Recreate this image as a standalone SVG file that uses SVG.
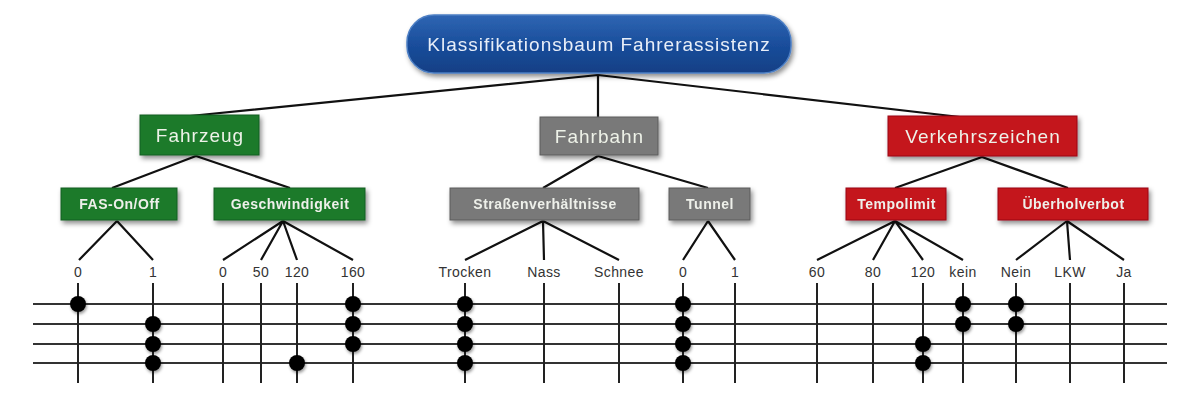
<svg xmlns="http://www.w3.org/2000/svg" width="1200" height="400" viewBox="0 0 1200 400">
<defs>
<filter id="sh" x="-20%" y="-30%" width="140%" height="170%"><feDropShadow dx="2" dy="3" stdDeviation="2.5" flood-color="#000" flood-opacity="0.45"/></filter>
<filter id="dsh" x="-60%" y="-60%" width="220%" height="220%"><feDropShadow dx="1" dy="2" stdDeviation="1.5" flood-color="#000" flood-opacity="0.4"/></filter>
<linearGradient id="gb" x1="0" y1="0" x2="0" y2="1"><stop offset="0" stop-color="#2f66b3"/><stop offset="0.5" stop-color="#1a4e9c"/><stop offset="1" stop-color="#123f85"/></linearGradient>
</defs>
<style>
text{font-family:"Liberation Sans",Arial,sans-serif;text-anchor:middle}
.t1{font-size:19px;fill:#eef2e8;letter-spacing:1px}
.t2{font-size:14px;fill:#eef0ea;font-weight:bold;letter-spacing:0.5px}
.lbl{font-size:14px;fill:#333;letter-spacing:0.4px}
.g{fill:#1c7a2c;stroke:#135e20;stroke-width:1}
.gr{fill:#797979;stroke:#5e5e5e;stroke-width:1}
.r{fill:#c4141d;stroke:#9a0d14;stroke-width:1}
.c{stroke:#111;stroke-width:2.2;fill:none}
.h{stroke:#333;stroke-width:2;fill:none}
.v{stroke:#222;stroke-width:2;fill:none}
.d{fill:#000;filter:url(#dsh)}
</style>
<rect width="1200" height="400" fill="#fff"/>
<g id="connectors">
<path class="c" d="M598 75 L190 116 M598 75 V117 M598 75 L960 117"/>
<path class="c" d="M196 156 L112 188 M196 156 L290 188"/>
<path class="c" d="M598 156 L543 188 M598 156 L708 188"/>
<path class="c" d="M982 157 L895 188 M982 157 L1068 188"/>
<path class="c" d="M117 221 L79 260 M117 221 L153 260"/>
<path class="c" d="M283 221 L223 260 M283 221 L261 260 M283 221 L297 260 M283 221 L353 260"/>
<path class="c" d="M543 221 L465 260 M543 221 L544 260 M543 221 L619 260"/>
<path class="c" d="M708 221 L683 260 M708 221 L735 260"/>
<path class="c" d="M895 221 L817 260 M895 221 L873 260 M895 221 L923 260 M895 221 L963 260"/>
<path class="c" d="M1067 221 L1016 260 M1067 221 L1070 260 M1067 221 L1124 260"/>
</g>
<g id="grid">
<path class="h" d="M33 304 H1167 M33 344 H1167 M33 363 H1167"/>
<path class="h" d="M33 324 H1167" stroke-width="3"/>
<path class="v" d="M78 283 V383 M153 283 V383 M223 283 V383 M261 283 V383 M297 283 V383 M353 283 V383 M465 283 V383 M544 283 V383 M619 283 V383 M683 283 V383 M735 283 V383 M817 283 V383 M873 283 V383 M923 283 V383 M963 283 V383 M1016 283 V383 M1070 283 V383 M1124 283 V383"/>
</g>
<g id="dots">
<circle class="d" cx="78" cy="304" r="8"/>
<circle class="d" cx="153" cy="324" r="8"/><circle class="d" cx="153" cy="344" r="8"/><circle class="d" cx="153" cy="363" r="8"/>
<circle class="d" cx="297" cy="363" r="8"/>
<circle class="d" cx="353" cy="304" r="8"/><circle class="d" cx="353" cy="324" r="8"/><circle class="d" cx="353" cy="344" r="8"/>
<circle class="d" cx="465" cy="304" r="8"/><circle class="d" cx="465" cy="324" r="8"/><circle class="d" cx="465" cy="344" r="8"/><circle class="d" cx="465" cy="363" r="8"/>
<circle class="d" cx="683" cy="304" r="8"/><circle class="d" cx="683" cy="324" r="8"/><circle class="d" cx="683" cy="344" r="8"/><circle class="d" cx="683" cy="363" r="8"/>
<circle class="d" cx="923" cy="344" r="8"/><circle class="d" cx="923" cy="363" r="8"/>
<circle class="d" cx="963" cy="304" r="8"/><circle class="d" cx="963" cy="324" r="8"/>
<circle class="d" cx="1016" cy="304" r="8"/><circle class="d" cx="1016" cy="324" r="8"/>
</g>
<g id="labels">
<text class="lbl" x="78" y="277">0</text>
<text class="lbl" x="153" y="277">1</text>
<text class="lbl" x="223" y="277">0</text>
<text class="lbl" x="261" y="277">50</text>
<text class="lbl" x="297" y="277">120</text>
<text class="lbl" x="353" y="277">160</text>
<text class="lbl" x="465" y="277">Trocken</text>
<text class="lbl" x="544" y="277">Nass</text>
<text class="lbl" x="619" y="277">Schnee</text>
<text class="lbl" x="683" y="277">0</text>
<text class="lbl" x="735" y="277">1</text>
<text class="lbl" x="817" y="277">60</text>
<text class="lbl" x="873" y="277">80</text>
<text class="lbl" x="923" y="277">120</text>
<text class="lbl" x="963" y="277">kein</text>
<text class="lbl" x="1016" y="277">Nein</text>
<text class="lbl" x="1070" y="277">LKW</text>
<text class="lbl" x="1124" y="277">Ja</text>
</g>
<g id="root" filter="url(#sh)">
<rect x="407" y="15" width="384" height="58" rx="27" fill="url(#gb)" stroke="#4d7fc4" stroke-width="1.5"/>
<text x="599" y="51" style="font-size:19px;fill:#e8eef8;letter-spacing:1px">Klassifikationsbaum Fahrerassistenz</text>
</g>
<g id="fahrzeug" filter="url(#sh)"><rect class="g" x="140" y="115" width="119" height="40"/><text class="t1" x="200" y="142">Fahrzeug</text></g>
<g id="fahrbahn" filter="url(#sh)"><rect class="gr" x="540" y="117" width="118" height="38"/><text class="t1" x="599.5" y="143">Fahrbahn</text></g>
<g id="verkehrszeichen" filter="url(#sh)"><rect class="r" x="888" y="116" width="189" height="40"/><text class="t1" x="983" y="143">Verkehrszeichen</text></g>
<g id="fas" filter="url(#sh)"><rect class="g" x="61" y="188" width="116" height="32"/><text class="t2" x="119.5" y="209">FAS-On/Off</text></g>
<g id="geschwindigkeit" filter="url(#sh)"><rect class="g" x="214" y="188" width="151" height="32"/><text class="t2" x="290" y="209">Geschwindigkeit</text></g>
<g id="strassen" filter="url(#sh)"><rect class="gr" x="450" y="188" width="189" height="32"/><text class="t2" x="545" y="209">Straßenverhältnisse</text></g>
<g id="tunnel" filter="url(#sh)"><rect class="gr" x="669" y="188" width="81" height="32"/><text class="t2" x="710" y="209">Tunnel</text></g>
<g id="tempolimit" filter="url(#sh)"><rect class="r" x="846" y="188" width="100" height="32"/><text class="t2" x="896.5" y="209">Tempolimit</text></g>
<g id="ueberholverbot" filter="url(#sh)"><rect class="r" x="998" y="188" width="150" height="32"/><text class="t2" x="1073.5" y="209">Überholverbot</text></g>
</svg>
